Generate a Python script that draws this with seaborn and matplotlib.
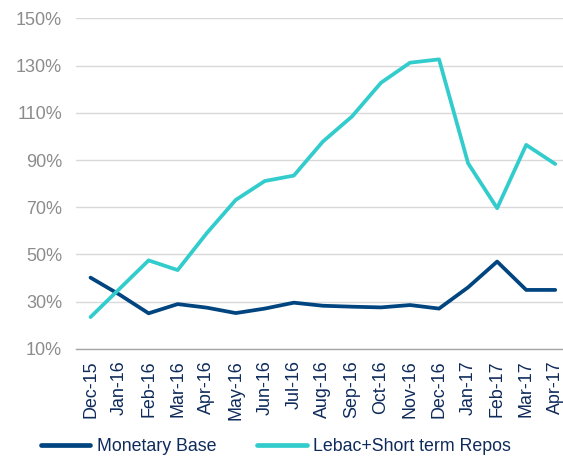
import matplotlib
matplotlib.use("Agg")
import matplotlib.pyplot as plt
import matplotlib.ticker as mticker
import pandas as pd
import seaborn as sns

# Data (year-on-year growth, %)
months = ["Dec-15", "Jan-16", "Feb-16", "Mar-16", "Apr-16", "May-16", "Jun-16",
          "Jul-16", "Aug-16", "Sep-16", "Oct-16", "Nov-16", "Dec-16", "Jan-17",
          "Feb-17", "Mar-17", "Apr-17"]
monetary_base = [40.2, 33.0, 25.1, 29.0, 27.5, 25.2, 27.1, 29.6, 28.3, 27.9,
                 27.6, 28.6, 27.1, 36.1, 47.0, 35.0, 35.0]
lebac_repos = [23.5, 35.5, 47.5, 43.4, 59.0, 73.1, 81.1, 83.4, 97.8, 108.4,
               122.7, 131.2, 132.6, 88.6, 69.6, 96.4, 88.3]
series_names = ["Monetary Base", "Lebac+Short term Repos"]

NAVY = "#00457F"
CYAN = "#33CCCC"
TEXT_NAVY = "#0F2B5B"
GREY = "#8C8C8C"

df = pd.DataFrame({
    "month": months * 2,
    "pos": list(range(len(months))) * 2,
    "value": monetary_base + lebac_repos,
    "series": [series_names[0]] * len(months) + [series_names[1]] * len(months),
})

sns.set_theme(style="white")
plt.rcParams["font.family"] = ["Liberation Sans", "DejaVu Sans"]

fig = plt.figure(figsize=(5.63, 4.59), dpi=100)
ax = fig.add_axes([0.135, 0.2397, 0.877, 0.7205])

sns.lineplot(data=df, x="pos", y="value", hue="series",
             palette={series_names[0]: NAVY, series_names[1]: CYAN},
             linewidth=2.7, ax=ax, legend=False)

ax.set_xlim(-0.5, len(months) - 0.5)
ax.set_ylim(10, 150)
ax.set_yticks(range(10, 151, 20))
ax.yaxis.set_major_formatter(mticker.FuncFormatter(lambda v, _: f"{v:.0f}%"))
ax.grid(axis="y", color="#D9D9D9", linewidth=1.0)
ax.set_axisbelow(True)

# category labels centred on the points, tick marks between categories
ax.set_xticks(range(len(months)))
ax.set_xticklabels(months, rotation=90, color=TEXT_NAVY, fontsize=12.9)
ax.set_xticks([i - 0.5 for i in range(len(months) + 1)], minor=True)
ax.tick_params(axis="x", which="major", length=0, pad=8)
ax.tick_params(axis="x", which="minor", length=5, color="#A6A6A6", width=1)
ax.tick_params(axis="y", length=0, labelcolor=GREY, labelsize=13, pad=10)

for side in ["top", "right", "left"]:
    ax.spines[side].set_visible(False)
ax.spines["bottom"].set_color("#A6A6A6")
ax.spines["bottom"].set_linewidth(1)
ax.set_xlabel("")
ax.set_ylabel("")

handles = [plt.Line2D([], [], color=NAVY, linewidth=3.4),
           plt.Line2D([], [], color=CYAN, linewidth=3.4)]
leg = fig.legend(handles, series_names, loc="center left", bbox_to_anchor=(0.072, 0.027),
                 ncol=2, frameon=False, fontsize=12.8, handlelength=2.8,
                 handletextpad=0.35, columnspacing=2.3, borderpad=0, borderaxespad=0)
for t in leg.get_texts():
    t.set_color(TEXT_NAVY)

fig.savefig("out.png", dpi=100)
